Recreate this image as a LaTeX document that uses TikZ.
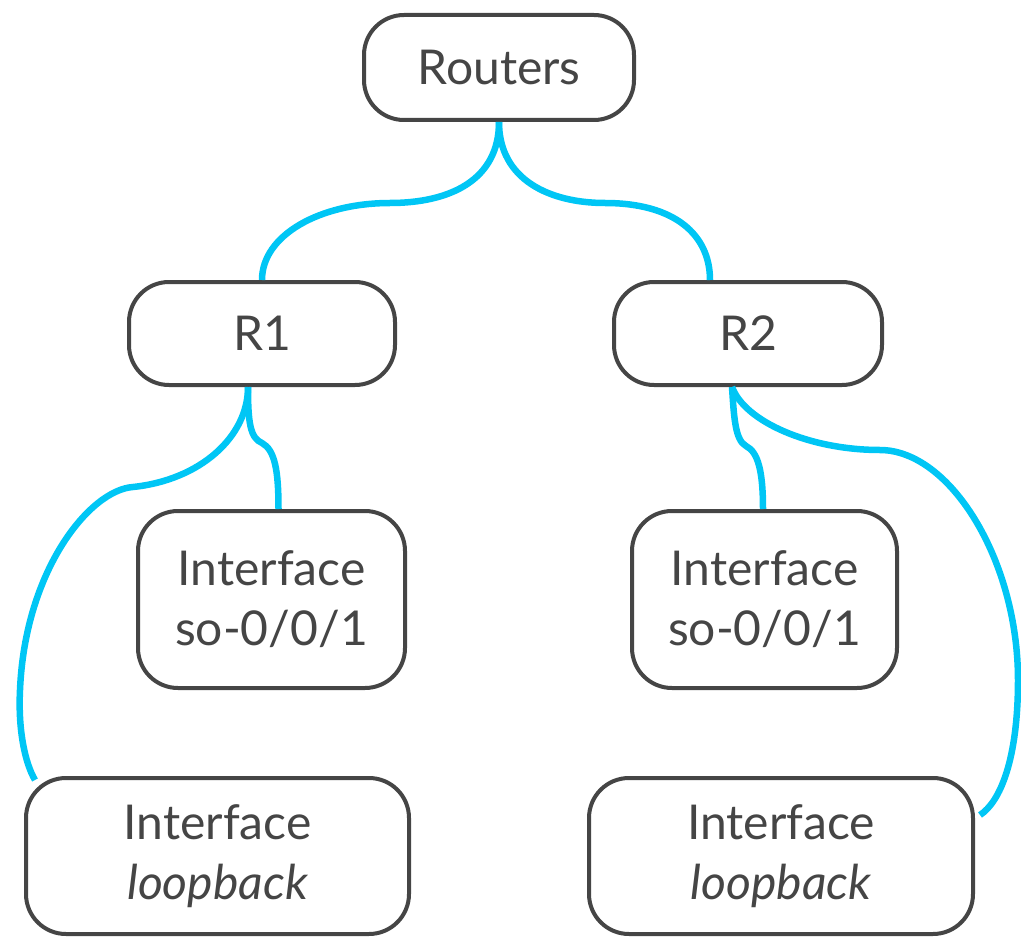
\documentclass[tikz,border=0pt]{standalone}
\usepackage{fontspec}
\setmainfont{Lato}
\definecolor{boxgray}{HTML}{454545}
\definecolor{linkblue}{RGB}{0,198,245}
\begin{document}
\begin{tikzpicture}[x=1pt,y=-1pt,
  box/.style={draw=boxgray, line width=4pt, rounded corners=40pt, fill=white,
    text=boxgray, align=center, inner sep=0pt,
    font=\fontsize{48}{60}\selectfont},
  link/.style={draw=linkblue, line width=6.5pt}]
\useasboundingbox (0,0) rectangle (1021,939);
% nodes
\node[box, minimum width=270pt, minimum height=105pt] (routers) at (499,67.5) {Routers};
\node[box, minimum width=266pt, minimum height=103pt] (r1) at (262,333.5) {R1};
\node[box, minimum width=268pt, minimum height=103pt] (r2) at (748,333.5) {R2};
\node[box, minimum width=267pt, minimum height=177pt] (so1) at (271.5,599.5) {Interface\\so-0/0/1};
\node[box, minimum width=265pt, minimum height=177pt] (so2) at (764.5,599.5) {Interface\\so-0/0/1};
\node[box, minimum width=383pt, minimum height=156pt] (lo1) at (217.5,856) {Interface\\\itshape loopback};
\node[box, minimum width=384pt, minimum height=156pt] (lo2) at (781,856) {Interface\\\itshape loopback};
% waypoints
\coordinate (wa) at (390,203);
\coordinate (wb) at (605,203);
\coordinate (wc) at (262,443);
\coordinate (wd) at (133,487);
\coordinate (we) at (20,690);
\coordinate (wf) at (746,446);
\coordinate (wg) at (880,450);
\coordinate (wh) at (1018,680);
% connectors
\draw[link] (routers.south) .. controls +(0,58) and +(60,0) .. (wa)
  .. controls +(-70,0) and +(0,-45) .. (r1.north);
\draw[link] (routers.south) .. controls +(0,58) and +(-55,0) .. (wb)
  .. controls +(70,0) and +(0,-45) .. ([xshift=-38pt]r2.north);
\draw[link] ([xshift=-14pt]r1.south) .. controls +(0,35) and +(-12,-5) .. (wc)
  .. controls +(13,7) and +(0,-38) .. ([xshift=7pt]so1.north);
\draw[link] ([xshift=-14pt]r1.south) .. controls +(0,50) and +(67,-7) .. (wd)
  .. controls +(-43,3) and +(5,-120) .. (we)
  .. controls +(-2,40) and +(-10,-17) .. ([xshift=11pt,yshift=-4pt]lo1.north west);
\draw[link] ([xshift=-16pt]r2.south) .. controls +(2,30) and +(-11,-6) .. (wf)
  .. controls +(12,6) and +(0,-38) .. ([xshift=-1.5pt]so2.north);
\draw[link] ([xshift=-16pt]r2.south) .. controls +(13,35) and +(-70,0) .. (wg)
  .. controls +(70,0) and +(0,-120) .. (wh)
  .. controls +(0,80) and +(20,-13) .. ([xshift=5pt,yshift=41pt]lo2.east);
\end{tikzpicture}
\end{document}
